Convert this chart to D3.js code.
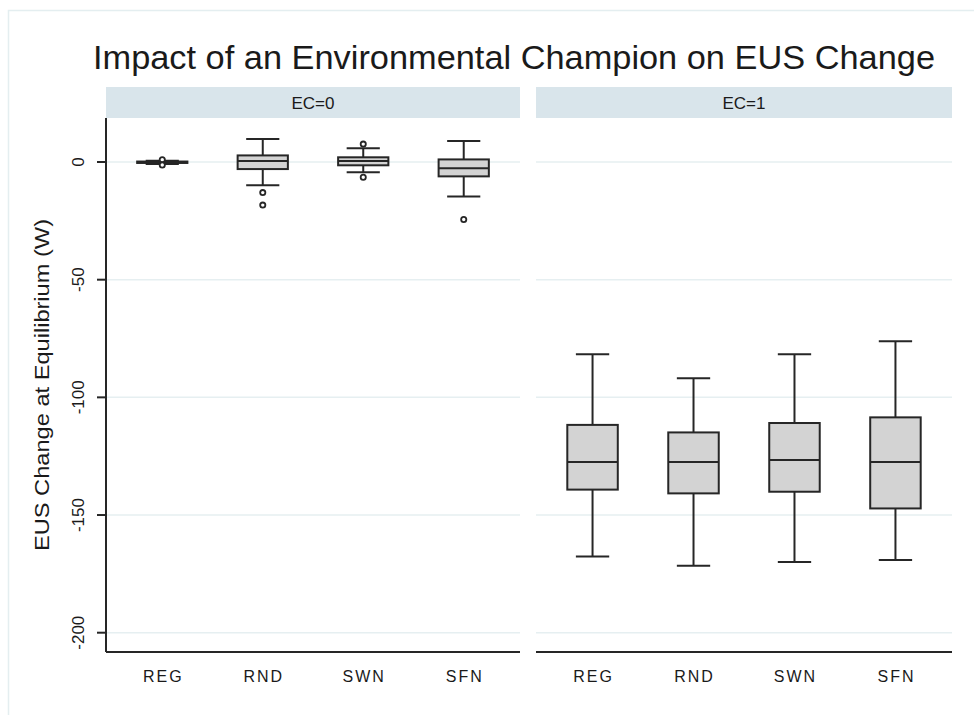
<html><head>
<title>Impact of an Environmental Champion on EUS Change</title>
<script src="https://d3js.org/d3.v7.min.js"></script>
<style>
  body { margin: 0; background: #fff; }
  text { font-family: "Liberation Sans", Arial, sans-serif; fill: #1a1a1a; }
</style>
</head>
<body>
<svg id="plot" width="974" height="715"></svg>
<script>

// ---- data ----
const groups = ["REG", "RND", "SWN", "SFN"];
const panels = ["EC=0", "EC=1"];
const yTicks = [0, -50, -100, -150, -200];

// EC=0
const ec0Low    = [-0.8, -9.9, -4.4, -14.7];
const ec0Q1     = [-0.4, -3.0, -1.4, -6.1];
const ec0Median = [-0.1, 0.4, 0.4, -2.7];
const ec0Q3     = [0.2, 2.8, 2.0, 1.1];
const ec0High   = [0.5, 9.8, 5.8, 8.9];
const ec0Out    = [[1.0, -1.3], [-13.0, -18.3], [7.6, -6.5], [-24.4]];

// EC=1
const ec1Low    = [-167.6, -171.5, -170.0, -169.1];
const ec1Q1     = [-139.2, -140.8, -140.1, -147.2];
const ec1Median = [-127.5, -127.5, -126.6, -127.5];
const ec1Q3     = [-111.7, -114.9, -110.9, -108.5];
const ec1High   = [-81.7, -91.9, -81.7, -76.2];
const ec1Out    = [[], [], [], []];

const svg = d3.select("svg#plot");
const width = +svg.attr("width");
const height = +svg.attr("height");

const plotTop = 118, plotBottom = 652;
const panelX = [[106, 520], [536, 952]];
const stripH = 31;
const ink = "#262626";

// faint outer frame like stata's graph region
svg.append("rect")
   .attr("x", 8.5).attr("y", 10.5)
   .attr("width", width + 20).attr("height", height + 20)
   .attr("fill", "none").attr("stroke", "#e4eef0").attr("stroke-width", 1.5);

const yScale = d3.scaleLinear().domain([-208.2, 18.7]).range([plotBottom, plotTop]);

// title
svg.append("text")
   .attr("x", 514).attr("y", 69)
   .attr("text-anchor", "middle")
   .attr("font-size", 33)
   .attr("textLength", 842).attr("lengthAdjust", "spacingAndGlyphs")
   .text("Impact of an Environmental Champion on EUS Change");

// y axis title
svg.append("text")
   .attr("transform", "translate(49,385) rotate(-90)")
   .attr("text-anchor", "middle")
   .attr("font-size", 20)
   .attr("textLength", 332).attr("lengthAdjust", "spacingAndGlyphs")
   .text("EUS Change at Equilibrium (W)");

const sets = [
  {lo: ec0Low, q1: ec0Q1, med: ec0Median, q3: ec0Q3, hi: ec0High, out: ec0Out},
  {lo: ec1Low, q1: ec1Q1, med: ec1Median, q3: ec1Q3, hi: ec1High, out: ec1Out}
];

panels.forEach((name, p) => {
  const [x0, x1] = panelX[p];
  let g = svg.append("g").attr("class", "panel");

  // strip
  g.append("rect")
   .attr("x", x0).attr("y", plotTop - stripH)
   .attr("width", x1 - x0).attr("height", stripH)
   .attr("fill", "#d9e5eb");
  g.append("text")
   .attr("x", (x0 + x1) / 2).attr("y", plotTop - stripH / 2 + 6)
   .attr("text-anchor", "middle").attr("font-size", 17)
   .text(name);

  // grid
  g.selectAll("line.grid").data(yTicks).join("line")
   .attr("class", "grid")
   .attr("x1", x0).attr("x2", x1)
   .attr("y1", d => yScale(d)).attr("y2", d => yScale(d))
   .attr("stroke", "#e6eff1").attr("stroke-width", 1.5);

  const xScale = d3.scalePoint().domain(groups).range([x0, x1]).padding(0.56);
  const boxW = xScale.step() * 0.5;
  const capW = boxW * 0.66;
  const s = sets[p];

  const box = g.selectAll("g.box").data(groups).join("g")
     .attr("class", "box")
     .attr("transform", d => "translate(" + xScale(d) + ",0)");

  // whiskers
  box.append("line")
     .attr("y1", (d, i) => yScale(s.hi[i])).attr("y2", (d, i) => yScale(s.q3[i]))
     .attr("stroke", ink).attr("stroke-width", 2);
  box.append("line")
     .attr("y1", (d, i) => yScale(s.q1[i])).attr("y2", (d, i) => yScale(s.lo[i]))
     .attr("stroke", ink).attr("stroke-width", 2);
  box.append("line")
     .attr("x1", -capW / 2).attr("x2", capW / 2)
     .attr("y1", (d, i) => yScale(s.hi[i])).attr("y2", (d, i) => yScale(s.hi[i]))
     .attr("stroke", ink).attr("stroke-width", 2);
  box.append("line")
     .attr("x1", -capW / 2).attr("x2", capW / 2)
     .attr("y1", (d, i) => yScale(s.lo[i])).attr("y2", (d, i) => yScale(s.lo[i]))
     .attr("stroke", ink).attr("stroke-width", 2);

  // box + median
  box.append("rect")
     .attr("x", -boxW / 2).attr("width", boxW)
     .attr("y", (d, i) => yScale(s.q3[i]))
     .attr("height", (d, i) => Math.max(1, yScale(s.q1[i]) - yScale(s.q3[i])))
     .attr("fill", "#d3d3d3").attr("stroke", ink).attr("stroke-width", 2);
  box.append("line")
     .attr("x1", -boxW / 2).attr("x2", boxW / 2)
     .attr("y1", (d, i) => yScale(s.med[i])).attr("y2", (d, i) => yScale(s.med[i]))
     .attr("stroke", ink).attr("stroke-width", 2);

  // outside values
  box.selectAll("circle").data((d, i) => s.out[i]).join("circle")
     .attr("cy", v => yScale(v)).attr("r", 2.6)
     .attr("fill", "#fff").attr("stroke", ink).attr("stroke-width", 1.8);

  // x axis
  g.append("line")
   .attr("x1", x0).attr("x2", x1)
   .attr("y1", plotBottom).attr("y2", plotBottom)
   .attr("stroke", ink).attr("stroke-width", 2);
  g.selectAll("text.xlab").data(groups).join("text")
   .attr("class", "xlab")
   .attr("x", d => xScale(d) + 1).attr("y", 682)
   .attr("text-anchor", "middle").attr("font-size", 16)
   .attr("letter-spacing", 2)
   .text(d => d);
});

// y axis (left panel only)
const yAxis = svg.append("g").attr("transform", "translate(" + panelX[0][0] + ",0)");
yAxis.append("line")
     .attr("y1", plotTop).attr("y2", plotBottom)
     .attr("stroke", ink).attr("stroke-width", 2);
yAxis.selectAll("line.tick").data(yTicks).join("line")
     .attr("class", "tick")
     .attr("x1", -9).attr("x2", 0)
     .attr("y1", d => yScale(d)).attr("y2", d => yScale(d))
     .attr("stroke", ink).attr("stroke-width", 2);
yAxis.selectAll("text").data(yTicks).join("text")
     .attr("transform", d => "translate(-22," + yScale(d) + ") rotate(-90)")
     .attr("text-anchor", "middle").attr("font-size", 17)
     .text(d => d);

</script>
</body>
</html>
